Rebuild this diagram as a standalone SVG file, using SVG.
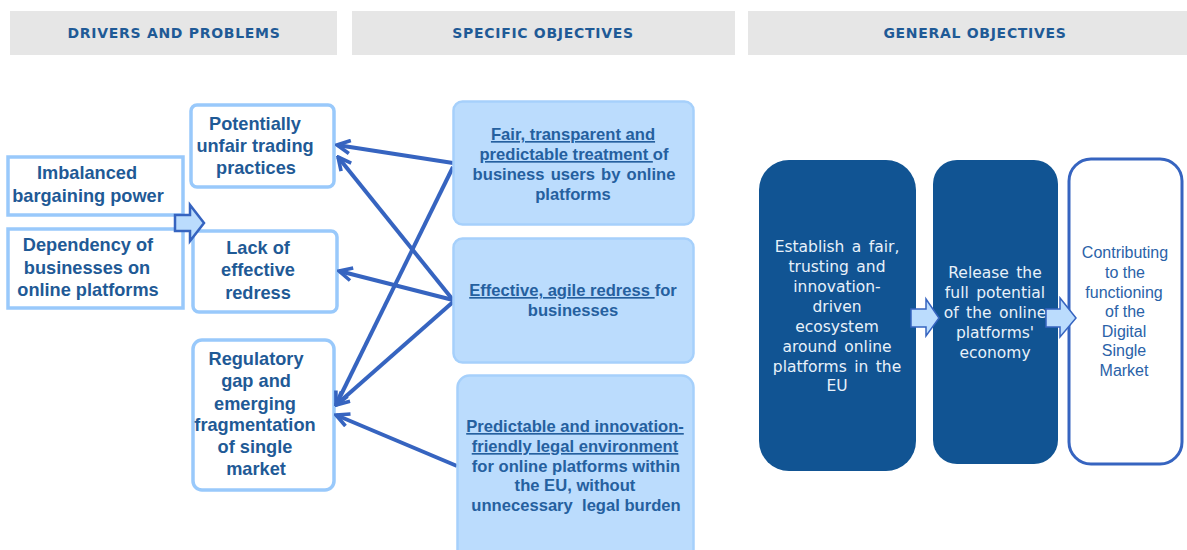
<svg xmlns="http://www.w3.org/2000/svg" width="1187" height="550" viewBox="0 0 1187 550">
<style>
.hb{fill:#e6e6e6}
.ht{font:bold 14px "DejaVu Sans",Verdana,sans-serif;fill:#1f5a96;text-anchor:middle;letter-spacing:.7px}
.pb{fill:#fff;stroke:#99c9fb;stroke-width:3.500}
.pt{font:bold 18.200px "Liberation Sans",Arial,sans-serif;fill:#1f5a96;text-anchor:middle}
.ob{fill:#bbdcfd;stroke:#a6d0fb;stroke-width:2.500}
.ot{font:bold 16.600px "Liberation Sans",Arial,sans-serif;fill:#25609f;text-anchor:middle;white-space:pre}
.u{text-decoration:underline}
.gb{fill:#115493}
.gt{font:15.500px "DejaVu Sans",Verdana,sans-serif;fill:#e8f1fa;text-anchor:middle;word-spacing:2.500px}
.ct{font:16px "Liberation Sans",Arial,sans-serif;fill:#2a62a8;text-anchor:middle}
.c{fill:none;stroke:#3664c0;stroke-width:4;marker-end:url(#open)}
.ba{fill:#bbdcfd;stroke:#3664c0;stroke-width:2.500;stroke-linejoin:miter}
.bb{fill:#bbdcfd;stroke:#3664c0;stroke-width:1.500}
</style>
<defs>
<marker id="open" viewBox="-16 -8 18 16" refX="0" refY="0" markerWidth="18" markerHeight="16" markerUnits="userSpaceOnUse" orient="auto">
<path d="M-13,-6.500 L0,0 L-13,6.500" fill="none" stroke="#3664c0" stroke-width="3.600"/>
</marker>
</defs>
<g id="header-drivers"><rect class="hb" x="10" y="11" width="327" height="44"/><text class="ht" x="174" y="38">DRIVERS AND PROBLEMS</text></g>
<g id="header-specific"><rect class="hb" x="352" y="11" width="383" height="44"/><text class="ht" x="543" y="38">SPECIFIC OBJECTIVES</text></g>
<g id="header-general"><rect class="hb" x="748" y="11" width="439" height="44"/><text class="ht" x="975" y="38">GENERAL OBJECTIVES</text></g>

<g id="node-imbalanced"><rect class="pb" x="8" y="157" width="175" height="58"/><text class="pt" x="87" y="179">Imbalanced</text><text class="pt" x="88" y="202">bargaining power</text></g>
<g id="node-dependency"><rect class="pb" x="8" y="229" width="175" height="79"/><text class="pt" x="88" y="251">Dependency of</text><text class="pt" x="87" y="274">businesses on</text><text class="pt" x="88" y="296">online platforms</text></g>
<g id="node-unfair"><rect class="pb" x="191" y="105" width="143" height="82" rx="6"/><text class="pt" x="255" y="130">Potentially</text><text class="pt" x="255" y="152">unfair trading</text><text class="pt" x="256" y="174">practices</text></g>
<g id="node-redress"><rect class="pb" x="193" y="231" width="144" height="81" rx="6"/><text class="pt" x="258" y="254">Lack of</text><text class="pt" x="258" y="276">effective</text><text class="pt" x="258" y="299">redress</text></g>
<g id="node-regulatory"><rect class="pb" x="193" y="340" width="141" height="150" rx="9"/><text class="pt" x="256" y="365">Regulatory</text><text class="pt" x="256" y="387">gap and</text><text class="pt" x="255" y="410">emerging</text><text class="pt" x="255" y="431">fragmentation</text><text class="pt" x="255" y="453">of single</text><text class="pt" x="256" y="475">market</text></g>

<g id="connectors">
<line class="c" x1="453" y1="163" x2="337" y2="145"/>
<line class="c" x1="453" y1="300" x2="338" y2="157"/>
<line class="c" x1="453" y1="167" x2="336" y2="405"/>
<line class="c" x1="453" y1="300" x2="339" y2="271"/>
<line class="c" x1="453" y1="302" x2="336" y2="405"/>
<line class="c" x1="457" y1="466" x2="336" y2="415"/>
</g>

<g id="node-fair"><rect class="ob" x="453.500" y="101.500" width="240" height="123" rx="9"/><text class="ot" x="573" y="140"><tspan class="u">Fair, transparent and</tspan></text><text class="ot" x="574" y="160"><tspan class="u">predictable treatment </tspan>of</text><text class="ot" x="574" y="180" word-spacing="1.500">business users by online</text><text class="ot" x="573" y="200">platforms</text></g>
<g id="node-effective"><rect class="ob" x="453.500" y="238.500" width="240" height="124" rx="9"/><text class="ot" x="573" y="296"><tspan class="u">Effective, agile redress </tspan>for</text><text class="ot" x="573" y="316">businesses</text></g>
<g id="node-predictable"><rect class="ob" x="457.500" y="375.500" width="236" height="190" rx="12"/><text class="ot" x="575" y="432"><tspan class="u">Predictable and innovation-</tspan></text><text class="ot" x="575" y="452"><tspan class="u">friendly legal environment</tspan></text><text class="ot" x="576" y="472">for online platforms within</text><text class="ot" x="575" y="491">the EU, without</text><text class="ot" x="576" y="511">unnecessary  legal burden</text></g>

<g id="node-establish"><rect class="gb" x="759" y="160" width="157" height="311" rx="30"/><text class="gt" x="837" y="252">Establish a fair,</text><text class="gt" x="837" y="272">trusting and</text><text class="gt" x="837" y="292">innovation-</text><text class="gt" x="837" y="312">driven</text><text class="gt" x="837" y="332">ecosystem</text><text class="gt" x="837" y="352">around online</text><text class="gt" x="837" y="372">platforms in the</text><text class="gt" x="837" y="391">EU</text></g>
<g id="node-release"><rect class="gb" x="933" y="160" width="125" height="304" rx="24"/><text class="gt" x="995" y="278">Release the</text><text class="gt" x="995" y="298">full potential</text><text class="gt" x="995" y="318">of the online</text><text class="gt" x="995" y="338">platforms'</text><text class="gt" x="995" y="358">economy</text></g>
<g id="node-contributing"><rect x="1069" y="159" width="113" height="305" rx="22" fill="#fff" stroke="#3664c0" stroke-width="3"/><text class="ct" x="1125" y="258">Contributing</text><text class="ct" x="1125" y="278">to the</text><text class="ct" x="1124" y="298">functioning</text><text class="ct" x="1125" y="317">of the</text><text class="ct" x="1124" y="337">Digital</text><text class="ct" x="1124" y="356">Single</text><text class="ct" x="1124" y="376">Market</text></g>

<g id="block-arrows">
<path class="ba" d="M175,215 H190 V205 L204,223 L190,241 V231 H175 Z"/>
<path class="bb" d="M911,309 H926 V299 L939,318 L926,336 V327 H911 Z"/>
<path class="bb" d="M1046,309 H1060 V298 L1076,318 L1060,337 V327 H1046 Z"/>
</g>
</svg>
